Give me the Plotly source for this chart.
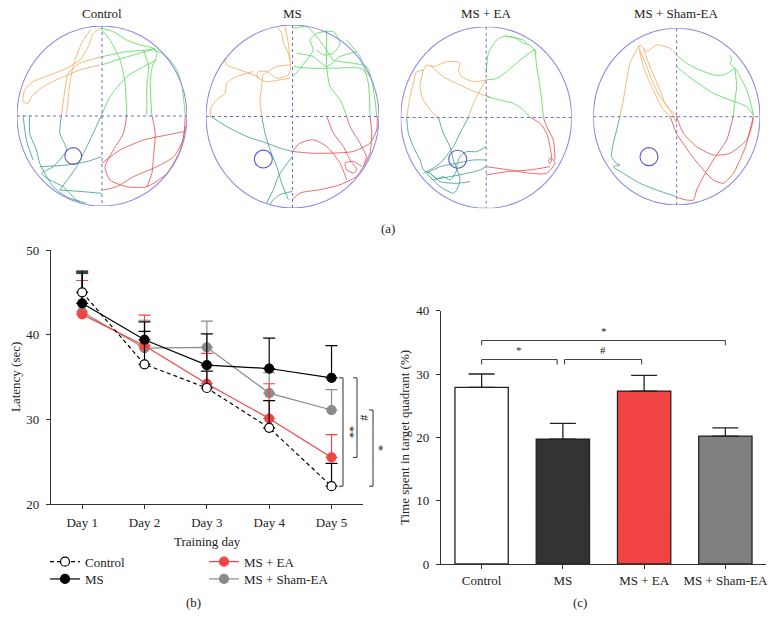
import plotly.graph_objects as go

W, H = 775, 629
def px(x): return x / W
def py(y): return 1 - y / H

FONT = "Liberation Serif, Times New Roman, serif"
TXT = "#222222"

# ---------------- Panel (b) data: latency ----------------
days = ["Day 1", "Day 2", "Day 3", "Day 4", "Day 5"]
day_x = [1, 2, 3, 4, 5]
ctrl_lat = [45.0, 36.5, 33.7, 29.0, 22.1]
ctrl_err = [2.5, 3.9, 2.0, 3.2, 2.7]
ms_lat = [43.7, 39.4, 36.4, 36.0, 34.9]
ms_err = [3.6, 2.1, 3.7, 3.6, 3.8]
ea_lat = [42.4, 38.7, 34.2, 30.1, 25.5]
ea_err = [4.0, 3.6, 3.6, 4.1, 2.7]
sham_lat = [42.7, 38.4, 38.5, 33.1, 31.1]
sham_err = [4.5, 3.3, 3.1, 2.4, 2.4]

# ---------------- Panel (c) data: time in target quadrant ----------------
groups = ["Control", "MS", "MS + EA", "MS + Sham-EA"]
group_x = [0, 1, 2, 3]
quad_time = [27.9, 19.7, 27.3, 20.2]
quad_err = [2.1, 2.5, 2.5, 1.3]
bar_colors = ["#ffffff", "#333333", "#f24444", "#808080"]

# ---------------- Panel (a) data: swim paths (tracking image units) ----------------
ctrl_box = [52, 560, 78, 618]      # arena left, right, top, bottom
ctrl_platform = [220, 468, 25]
ctrl_orange = [
    [(300,85),(280,100),(265,140),(240,180),(200,205),(150,225),(100,245),(75,270),(70,305),(85,310),(95,290),(130,260),(180,235),(240,210),(300,195)],
    [(305,170),(240,190),(205,220),(195,270),(185,345)],
    [(272,88),(245,130),(222,190),(210,250),(205,300),(200,345)],
]
ctrl_green = [
    [(305,85),(340,95),(380,120),(420,135),(460,145),(470,160),(455,205),(450,250),(455,345)],
    [(305,195),(350,180),(400,165),(460,150),(500,170),(530,210),(545,260),(555,345)],
    [(305,170),(380,155),(440,150),(465,145)],
    [(305,345),(330,290),(380,230),(430,200),(470,180)],
    [(300,85),(330,120),(360,180),(375,250),(380,345)],
    [(430,150),(445,200),(440,260),(440,345)],
]
ctrl_red = [
    [(380,345),(370,400),(340,450),(315,500),(330,540),(380,560),(440,560),(500,520),(540,450),(555,380)],
    [(305,490),(360,450),(430,420),(500,405),(550,395)],
    [(455,345),(465,400),(460,470),(455,520),(440,560)],
    [(555,345),(548,420),(520,470),(470,500),(400,530),(350,560),(310,570)],
]
ctrl_teal = [
    [(185,345),(180,400),(200,450),(160,500),(125,520),(150,540),(190,560),(230,600),(260,610)],
    [(90,345),(90,400),(110,450),(120,490),(160,560),(200,590),(240,605)],
    [(305,345),(270,420),(230,500),(180,570)],
    [(120,500),(200,495),(260,485),(305,470)],
    [(180,570),(250,575),(305,580)],
    [(70,345),(80,420),(100,480)],
]

ms_box = [18, 537, 75, 625]
ms_platform = [190, 478, 27]
ms_orange = [
    [(230,80),(245,100),(250,130),(265,160),(272,200),(265,225),(230,235),(200,215),(175,215),(170,230),(200,245),(240,240),(270,235)],
    [(75,175),(80,195),(120,210),(160,225),(180,235)],
    [(270,195),(230,200),(190,225),(185,260),(180,300),(185,348)],
    [(30,348),(35,320),(50,300),(75,280),(80,250),(110,230),(160,215)],
    [(255,80),(265,130),(270,180)],
]
ms_green = [
    [(280,85),(320,80),(350,110),(380,150),(400,180),(460,190),(500,200),(515,240),(525,300),(530,348)],
    [(380,90),(380,200),(390,260),(420,300),(440,348)],
    [(280,200),(330,205),(400,205),(480,205),(510,230)],
    [(280,230),(320,180),(340,150),(330,120),(350,100),(400,95),(420,130),(400,160),(370,165),(350,150)],
    [(440,120),(480,170),(505,250),(510,348)],
    [(290,160),(340,170),(380,200),(420,170),(470,155)],
]
ms_red = [
    [(380,348),(400,400),(430,440),(450,480),(470,510),(460,520),(440,510),(435,490),(460,485),(485,500)],
    [(277,455),(330,460),(400,460),(460,455),(510,430),(530,390),(532,348)],
    [(277,600),(300,580),(360,570),(420,555),(470,530),(490,500),(500,470)],
    [(277,455),(300,430),(340,420),(380,440),(420,490),(440,540)],
    [(440,348),(450,380),(480,430),(500,470)],
    [(510,348),(515,400),(510,460),(490,500)],
]
ms_teal = [
    [(30,348),(80,380),(140,410),(200,430),(240,445),(277,455)],
    [(185,348),(195,400),(210,450),(230,500),(245,550),(265,600)],
    [(277,470),(255,500),(235,530),(220,570),(200,610)],
    [(277,575),(240,585),(220,600),(210,615)],
]

ea_box = [32, 545, 80, 625]
ea_platform = [203, 478, 27]
ea_orange = [
    [(288,240),(250,245),(215,230),(205,210),(210,190),(200,185),(170,185),(130,200),(110,195),(100,210),(80,215),(70,250),(60,290),(50,352)],
    [(120,195),(160,230),(220,260),(280,285),(300,290)],
    [(100,210),(90,260),(100,300),(130,340),(145,352)],
    [(288,240),(270,270),(250,310),(235,352)],
]
ea_green = [
    [(288,220),(295,160),(320,120),(345,108),(380,115),(400,130),(420,135),(440,160)],
    [(288,240),(320,235),(350,215),(390,180),(435,148)],
    [(435,148),(440,200),(450,260),(455,300),(460,352)],
    [(288,290),(330,300),(370,310),(400,330),(420,352)],
    [(345,108),(400,120),(410,130)],
]
ea_red = [
    [(420,352),(450,370),(470,400),(480,440),(485,480),(480,490),(475,485),(480,475),(490,480),(495,490),(470,520),(420,520),(360,510),(288,500)],
    [(460,352),(470,380),(490,420),(495,480)],
    [(288,525),(350,515),(420,510),(480,500)],
]
ea_teal = [
    [(50,352),(55,400),(70,440),(90,480),(100,510),(120,520),(140,535),(180,530),(230,520),(270,510),(288,500)],
    [(145,352),(160,400),(180,440),(190,480),(200,510),(180,540),(160,530),(130,540),(110,520)],
    [(235,352),(210,400),(190,440),(150,490),(120,510),(100,520)],
    [(288,440),(260,455),(230,455),(210,470),(200,500),(210,540),(200,570),(190,580),(150,560),(120,530)],
    [(110,520),(150,500),(200,490),(250,480),(288,480)],
    [(120,520),(150,545),(200,550),(240,545)],
]

sham_box = [40, 540, 85, 615]
sham_platform = [207, 470, 27]
sham_orange = [
    [(120,348),(130,300),(140,240),(150,190),(170,150),(180,135),(190,145),(200,155),(230,135),(270,145),(290,165)],
    [(180,150),(200,200),(220,250),(240,290),(270,330),(289,370)],
    [(190,145),(210,200),(240,270),(260,320),(289,345)],
    [(175,135),(190,200),(215,260),(250,330),(270,348)],
]
sham_green = [
    [(289,165),(320,190),(360,210),(400,225),(430,225),(450,215),(465,205),(480,230),(500,270),(515,320),(520,348)],
    [(450,165),(455,180),(450,190),(465,205)],
    [(289,200),(340,240),(400,280),(450,300),(500,320),(520,345)],
    [(465,205),(470,260),(465,300),(460,348)],
]
sham_red = [
    [(460,348),(440,420),(400,480),(370,530),(350,570),(340,600),(320,600),(300,595),(289,590)],
    [(289,348),(310,400),(350,440),(400,465),(450,460),(500,420),(515,380),(520,350)],
    [(289,400),(330,460),(370,510),(400,540),(430,550),(460,520),(480,480),(500,430),(510,390),(520,350)],
    [(270,348),(289,400)],
]
sham_teal = [
    [(120,348),(110,390),(100,430),(95,470),(110,490),(120,495),(100,500),(130,520),(180,550),(230,570),(289,590)],
]

maze_titles = ["Control", "MS", "MS + EA", "MS + Sham-EA"]

PATH_COLORS = {"orange": "#f3aa62", "green": "#58dc58", "red": "#e65050", "teal": "#40a08e"}

fig = go.Figure()

def note(text, x, y, size=13, angle=0, **kw):
    d = dict(text=text, xref="paper", yref="paper", x=x, y=y, showarrow=False, textangle=angle,
             xanchor="center", yanchor="middle", font=dict(size=size, family=FONT, color=TXT))
    d.update(kw)
    return d

# ---------- mazes ----------
mazes = [
    (ctrl_box, ctrl_platform, {"orange": ctrl_orange, "green": ctrl_green, "red": ctrl_red, "teal": ctrl_teal}, (17, 187, 26, 206)),
    (ms_box, ms_platform, {"orange": ms_orange, "green": ms_green, "red": ms_red, "teal": ms_teal}, (206, 379, 25, 208)),
    (ea_box, ea_platform, {"orange": ea_orange, "green": ea_green, "red": ea_red, "teal": ea_teal}, (400.7, 571.7, 26.7, 208.3)),
    (sham_box, sham_platform, {"orange": sham_orange, "green": sham_green, "red": sham_red, "teal": sham_teal}, (593.3, 760, 28.3, 205)),
]

layout_axes = {}
shapes = []
annotations = []
for i, (box, plat, paths, dom) in enumerate(mazes):
    k = i + 3
    xa, ya = f"x{k}", f"y{k}"
    for cname, plist in paths.items():
        for pth in plist:
            fig.add_trace(go.Scatter(
                x=[p[0] for p in pth], y=[p[1] for p in pth], mode="lines",
                line=dict(color=PATH_COLORS[cname], width=0.85, shape="spline", smoothing=0.6),
                xaxis=xa, yaxis=ya, showlegend=False, hoverinfo="skip"))
    L, R, T, B = box
    cx, cy = (L + R) / 2, (T + B) / 2
    layout_axes[f"xaxis{k}"] = dict(domain=[px(dom[0]), px(dom[1])], range=[L, R], visible=False, fixedrange=True)
    layout_axes[f"yaxis{k}"] = dict(domain=[py(dom[3]), py(dom[2])], range=[B, T], visible=False, fixedrange=True)
    shapes.append(dict(type="circle", xref=xa, yref=ya, x0=L, x1=R, y0=T, y1=B,
                       line=dict(color="#8a8ae6", width=1.1), layer="above"))
    shapes.append(dict(type="line", xref=xa, yref=ya, x0=L, x1=R, y0=cy, y1=cy,
                       line=dict(color="#6a6ad8", width=1, dash="dot"), layer="above"))
    shapes.append(dict(type="line", xref=xa, yref=ya, x0=cx, x1=cx, y0=T, y1=B,
                       line=dict(color="#6a6ad8", width=1, dash="dot"), layer="above"))
    shapes.append(dict(type="circle", xref=xa, yref=ya, x0=plat[0]-plat[2], x1=plat[0]+plat[2],
                       y0=plat[1]-plat[2], y1=plat[1]+plat[2], line=dict(color="#5a5ad0", width=1.1), layer="above"))
    annotations.append(note(maze_titles[i], px((dom[0] + dom[1]) / 2), py(13)))

annotations.append(note("(a)", px(388), py(228)))

# ---------- panel (b) ----------
series_b = [
    ("MS + Sham-EA", sham_lat, sham_err, "#8a8a8a", "#8a8a8a", "solid", "legend4"),
    ("MS + EA", ea_lat, ea_err, "#f24444", "#f24444", "solid", "legend3"),
    ("MS", ms_lat, ms_err, "#000000", "#000000", "solid", "legend2"),
    ("Control", ctrl_lat, ctrl_err, "#000000", "#ffffff", "4px,3px", "legend"),
]
for name, vals, errs, col, fill, dash, leg in series_b:
    fig.add_trace(go.Scatter(
        x=day_x, y=vals, name=name, mode="lines+markers",
        line=dict(color=col, width=1.2, dash=dash),
        marker=dict(size=9, color=fill, line=dict(color=col, width=1.2)),
        error_y=dict(type="data", array=errs, arrayminus=[0]*len(errs), symmetric=False,
                     color=col, thickness=1.2, width=6),
        legend=leg, xaxis="x", yaxis="y"))

AX = "#333333"
bx_dom = [px(51), px(362.7)]
by_dom = [py(504), py(250)]
common = dict(showline=True, linecolor=AX, linewidth=1.2, ticks="outside", ticklen=4,
              tickcolor=AX, tickwidth=1.2, showgrid=False, zeroline=False,
              tickfont=dict(size=13, family=FONT, color=TXT), fixedrange=True)
layout_axes["xaxis"] = dict(domain=bx_dom, range=[0.5, 5.5], tickvals=day_x, ticktext=days,
                            ticklabelstandoff=2, anchor="y", **common)
layout_axes["yaxis"] = dict(domain=by_dom, range=[20, 50], tickvals=[20, 30, 40, 50],
                            ticklabelstandoff=4, anchor="x", **common)

def yb(v):
    return by_dom[0] + (v - 20) / 30 * (by_dom[1] - by_dom[0])

brackets_b = [
    (343, ms_lat[4], ctrl_lat[4], "**", 350),
    (357, ms_lat[4], ea_lat[4], "#", 364),
    (373, sham_lat[4], ctrl_lat[4], "*", 379),
]
for bxp, v1, v2, lab, lx in brackets_b:
    for seg in [(bxp, v1, bxp, v2), (bxp - 4, v1, bxp, v1), (bxp - 4, v2, bxp, v2)]:
        shapes.append(dict(type="line", xref="paper", yref="paper", x0=px(seg[0]), x1=px(seg[2]),
                           y0=yb(seg[1]), y1=yb(seg[3]), line=dict(color="#444444", width=1.1)))
    annotations.append(note(lab, px(lx), yb((v1 + v2) / 2), size=12, angle=90))

annotations += [
    note("Latency (sec)", px(15), py(377), angle=-90),
    note("Training day", px(207), py(541)),
    note("(b)", px(193), py(602)),
]

# ---------- panel (c) ----------
fig.add_trace(go.Bar(
    x=group_x, y=quad_time, width=0.656, marker=dict(color=bar_colors, line=dict(color="#222222", width=1.3)),
    error_y=dict(type="data", array=quad_err, arrayminus=[0]*4, symmetric=False, color="#222222",
                 thickness=1.3, width=13),
    xaxis="x2", yaxis="y2", showlegend=False))

layout_axes["xaxis2"] = dict(domain=[px(441), px(766)], range=[-0.5, 3.5], tickvals=group_x, ticktext=groups,
                             ticklabelstandoff=0, anchor="y2", **common)
layout_axes["yaxis2"] = dict(domain=[py(564), py(310.7)], range=[0, 40], tickvals=[0, 10, 20, 30, 40],
                             ticklabelstandoff=4, anchor="x2", **common)

brackets_c = [
    (0, 0.93, 32.3, 0.8, "*"),
    (1.02, 1.97, 32.3, 0.8, "#"),
    (0, 3.0, 35.3, 0.75, "*"),
]
for xa0, xa1, yv, dh, lab in brackets_c:
    for seg in [(xa0, yv, xa1, yv), (xa0, yv, xa0, yv - dh), (xa1, yv, xa1, yv - dh)]:
        shapes.append(dict(type="line", xref="x2", yref="y2", x0=seg[0], x1=seg[2], y0=seg[1], y1=seg[3],
                           line=dict(color="#444444", width=1.1)))
    annotations.append(dict(text=lab, xref="x2", yref="y2", x=(xa0 + xa1) / 2, y=yv + 0.3,
                            showarrow=False, xanchor="center", yanchor="bottom",
                            font=dict(size=11, family=FONT, color=TXT)))

annotations += [
    note("Time spent in target quadrant (%)", px(404), py(437), angle=-90),
    note("(c)", px(580), py(602)),
]

def leg(x, y):
    return dict(x=px(x), y=py(y), xanchor="left", yanchor="middle", orientation="v",
                font=dict(size=13, family=FONT, color=TXT), bgcolor="rgba(0,0,0,0)", itemwidth=30)

fig.update_layout(
    width=W, height=H, margin=dict(l=0, r=0, t=0, b=0, autoexpand=False),
    paper_bgcolor="white", plot_bgcolor="white",
    font=dict(family=FONT, size=13, color=TXT),
    shapes=shapes, annotations=annotations,
    legend=leg(45, 561.7), legend2=leg(45, 579), legend3=leg(204, 561.7), legend4=leg(204, 579),
    **layout_axes,
)

fig.write_html("out.html", config={"displayModeBar": False},
               post_script="document.body.style.margin='0';document.body.style.overflow='hidden';")
